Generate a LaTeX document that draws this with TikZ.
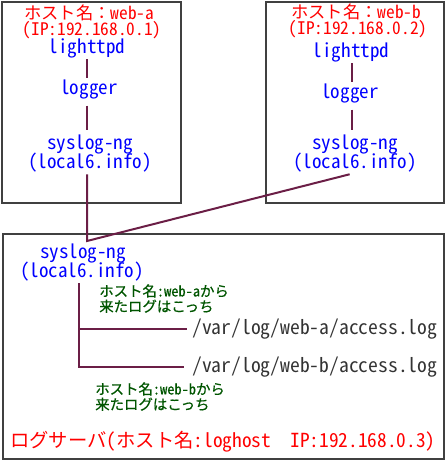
\documentclass[tikz,border=0pt]{standalone}
\usepackage{fontspec}
\setmainfont{Noto Sans CJK JP}[RawFeature=+hwid]
\newfontfamily\cjkprop{Noto Sans CJK JP}
\newcommand{\fwcolon}{{\cjkprop ：}}
\definecolor{hostred}{HTML}{FF0000}
\definecolor{procblue}{HTML}{0000FF}
\definecolor{notegreen}{HTML}{005500}
\definecolor{pathgray}{HTML}{333333}
\definecolor{linkcol}{HTML}{6B1E46}
\definecolor{boxgray}{HTML}{404040}
\tikzset{
  hostbox/.style={draw=boxgray, line width=1.5pt},
  hostlbl/.style={text=hostred, font=\fontsize{13}{14}\selectfont, inner sep=0pt},
  proc/.style={text=procblue, font=\fontsize{14.3}{15}\selectfont, inner sep=1pt},
  note/.style={text=notegreen, font=\fontsize{10.8}{11.5}\selectfont\addfontfeatures{FakeBold=0.6}, align=left, anchor=north west, inner sep=0pt},
  pathlbl/.style={text=pathgray, font=\fontsize{14.7}{15}\selectfont, anchor=west, inner sep=0pt},
  conn/.style={draw=linkcol, line width=1.5pt}
}
\begin{document}
\begin{tikzpicture}[x=0.75pt, y=-0.75pt]
\useasboundingbox (0,0) rectangle (444,460);
% boxes
\node[hostbox, minimum width=179*0.75pt, minimum height=201*0.75pt, anchor=north west, inner sep=0pt] (boxA) at (1,1) {};
\node[hostbox, minimum width=178*0.75pt, minimum height=201*0.75pt, anchor=north west, inner sep=0pt] (boxB) at (265,1) {};
\node[hostbox, minimum width=441*0.75pt, minimum height=225*0.75pt, anchor=north west, inner sep=0pt] (boxC) at (2,233) {};
% host A
\node[hostlbl] (hostA) at (89,13) {ホスト名\fwcolon web-a};
\node[hostlbl] (ipA) at (92,30) {(IP:192.168.0.1)};
\node[proc] (httpA) at (87,48) {lighttpd};
\node[proc] (logA) at (89,89) {logger};
\node[proc] (sysA) at (90,144) {syslog-ng};
\node[proc] (locA) at (90,163) {(local6.info)};
% host B
\node[hostlbl] (hostB) at (356,12) {ホスト名\fwcolon web-b};
\node[hostlbl] (ipB) at (358,29) {(IP:192.168.0.2)};
\node[proc] (httpB) at (351,52) {lighttpd};
\node[proc] (logB) at (350,93) {logger};
\node[proc] (sysB) at (355,144) {syslog-ng};
\node[proc] (locB) at (355,163) {(local6.info)};
% log server
\node[proc] (sysC) at (83,253) {syslog-ng};
\node[proc] (locC) at (82,272) {(local6.info)};
\node[note] (noteA) at (99,284) {ホスト名:web-aから\\来たログはこっち};
\node[pathlbl] (pathA) at (192,329) {/var/log/web-a/access.log};
\node[pathlbl] (pathB) at (192,367) {/var/log/web-b/access.log};
\node[note] (noteB) at (95,382) {ホスト名:web-bから\\来たログはこっち};
\node[text=hostred, font=\fontsize{14.5}{15}\selectfont, anchor=west, inner sep=0pt] (srv) at (10,442) {ログサーバ(ホスト名:loghost\ \ IP:192.168.0.3)};
% connectors
\coordinate (colA) at (87,0);
\coordinate (colB) at (352,0);
\draw[conn] (httpA.south -| colA) -- (logA.north -| colA);
\draw[conn] ([yshift=-4pt]logA.south -| colA) -- ([yshift=2pt]sysA.north -| colA);
\draw[conn] (httpB.south -| colB) -- (logB.north -| colB);
\draw[conn] ([yshift=-4pt]logB.south -| colB) -- ([yshift=2pt]sysB.north -| colB);
\coordinate (join) at (87,241);
\draw[conn] (locA.south -| join) -- (join) -- ([xshift=-4pt]locB.south);
\coordinate (trunk) at (79,0);
\draw[conn] (locC.south -| trunk) -- (trunk |- pathB.west) -- ([xshift=-6pt]pathB.west);
\draw[conn] (trunk |- pathA.west) -- ([xshift=-4pt]pathA.west);
\end{tikzpicture}
\end{document}
